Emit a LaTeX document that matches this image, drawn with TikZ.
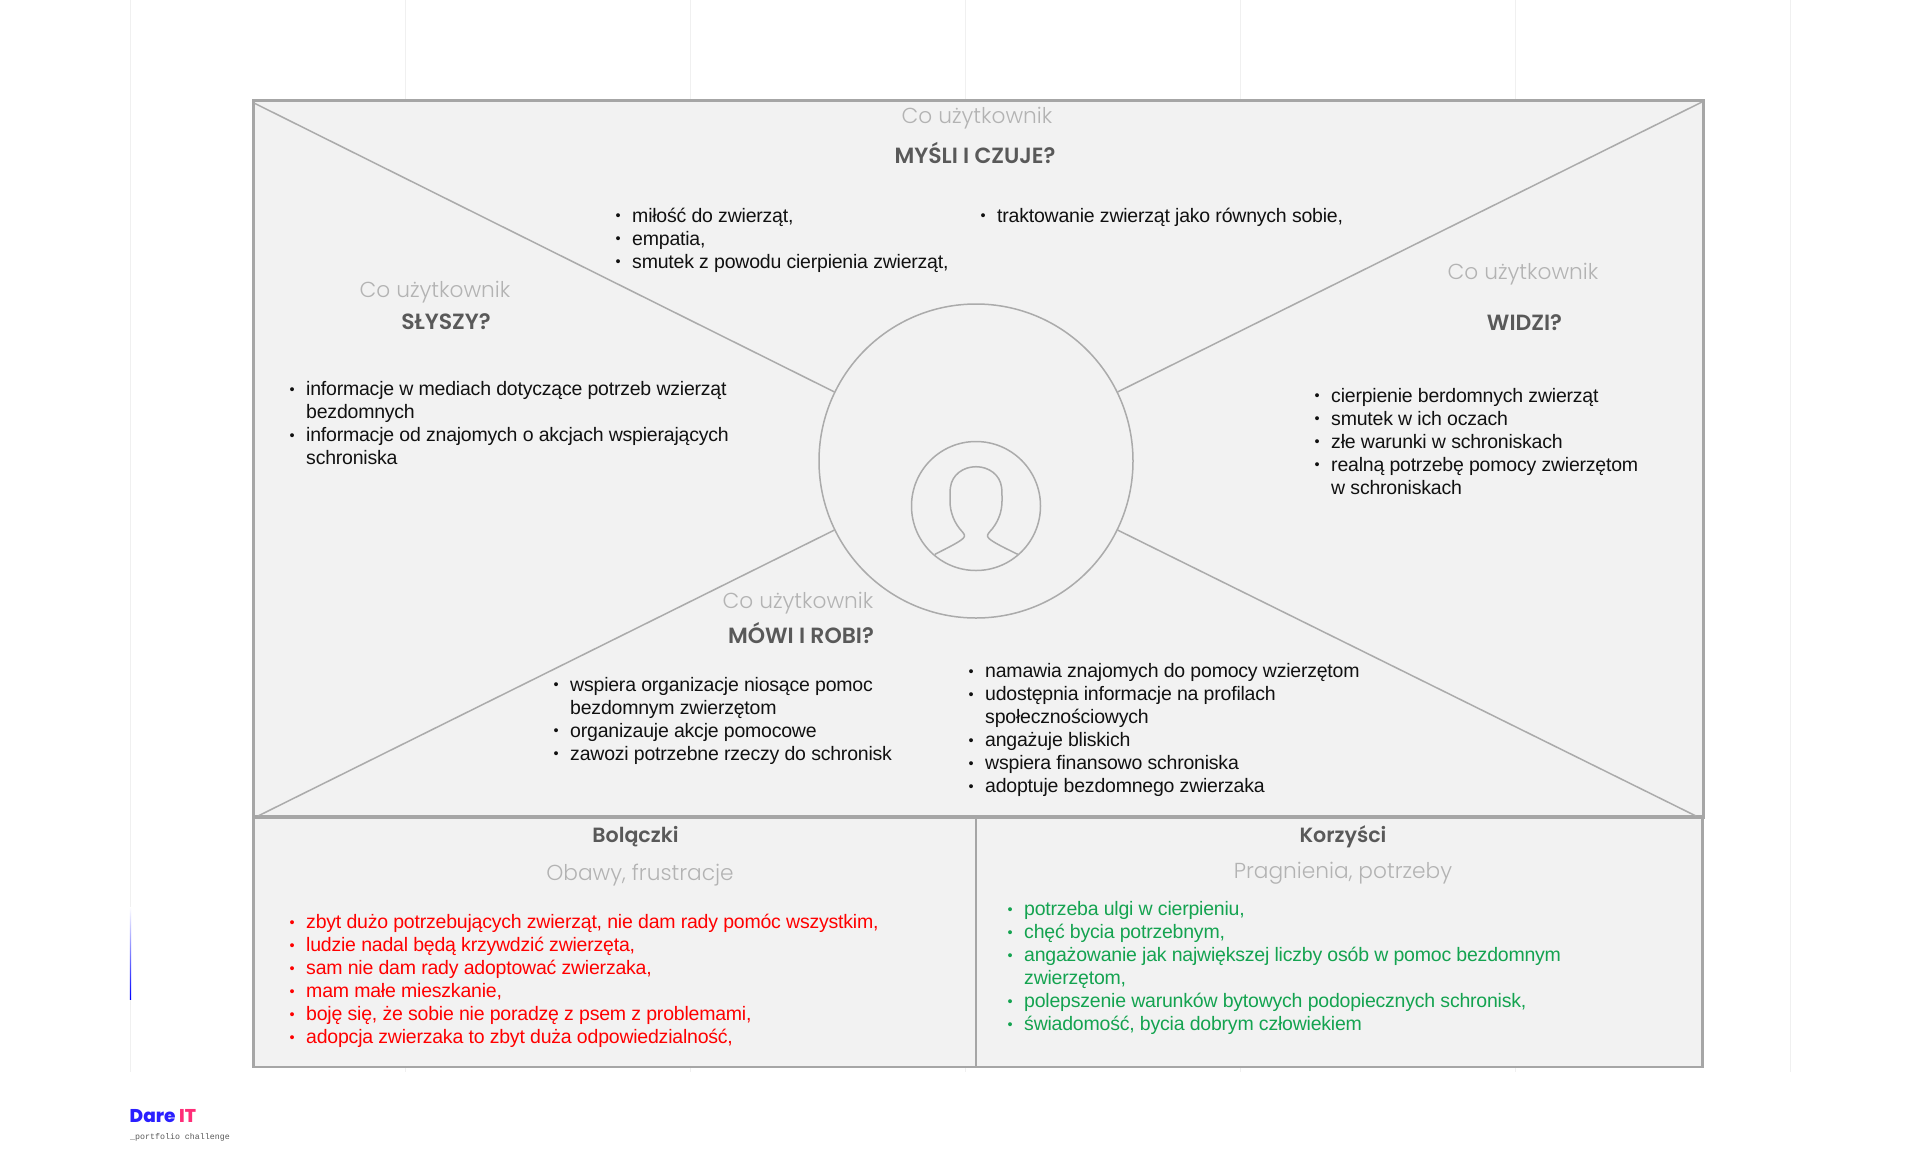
\documentclass[tikz,border=0pt]{standalone}
\usepackage{fontspec}
\setmainfont{Liberation Sans}[LetterSpace=-1.1]
\newfontfamily\hl{Poppins Light}
\newfontfamily\hb{Poppins SemiBold}
\newfontfamily\hx{Poppins ExtraBold}
\newfontfamily\mn{Liberation Mono}
\definecolor{edge}{HTML}{A6A6A6}
\definecolor{thinedge}{HTML}{ABABAB}
\definecolor{panel}{HTML}{F2F2F2}
\definecolor{gridc}{HTML}{F0F0F0}
\definecolor{lightt}{HTML}{B3B3B3}
\definecolor{darkt}{HTML}{595959}
\definecolor{bodyt}{HTML}{111111}
\definecolor{redt}{HTML}{FF0000}
\definecolor{greent}{HTML}{14A350}
\definecolor{dareblue}{HTML}{2A1FFF}
\definecolor{darepink}{HTML}{FF2D78}
\newcommand{\bl}[1]{\rule{0pt}{16pt}\makebox[16pt][l]{\hspace{-0.5pt}\raisebox{1.4pt}{\fontsize{14.5}{14.5}\selectfont\char"2022}}#1}
\newcommand{\cn}[1]{\hspace*{16pt}#1}
\tikzset{
  x=1pt,y=-1pt,
  panelbox/.style={draw=edge,fill=panel},
  spoke/.style={draw=thinedge,line width=1.5pt},
  gridline/.style={draw=gridc,line width=1pt},
  ask/.style={font=\hl\fontsize{21.7}{26}\selectfont,text=lightt,inner sep=0pt},
  topic/.style={font=\hb\fontsize{22}{24}\selectfont,text=darkt,inner sep=0pt},
  subtopic/.style={font=\hb\fontsize{20.6}{24}\selectfont,text=darkt,inner sep=0pt},
  items/.style={anchor=north west,align=left,inner sep=0pt,text=bodyt,font=\fontsize{19.5}{23}\selectfont},
}
\begin{document}
\begin{tikzpicture}
\useasboundingbox (0,0) rectangle (1920,1168);
\fill[white] (0,0) rectangle (1920,1168);
\foreach \gx in {130.5,405,690.5,965,1240.5,1515,1790}{\draw[gridline] (\gx,0) -- (\gx,1072);}
\shade[top color=white,bottom color=blue,draw=none] (129.8,907) rectangle (131.2,999);
\path[panelbox,line width=2.4pt] (253.5,817) rectangle (976,1067);
\path[panelbox,line width=2.4pt] (976,817) rectangle (1702.5,1067);
\path[panelbox,line width=3.2pt] (253.5,100.5) rectangle (1703.5,817);
\draw[edge,line width=4pt] (252,817) -- (1705,817);
\coordinate (ul) at (254,103);
\coordinate (ur) at (1702,102);
\coordinate (ll) at (258,816);
\coordinate (lr) at (1696,816);
\node[circle,draw=thinedge,line width=1.5pt,minimum size=314pt,inner sep=0pt] (hub) at (976,461) {};
\node[circle,draw=thinedge,line width=1.5pt,minimum size=129pt,inner sep=0pt] (face) at (976,506) {};
\draw[spoke] (ul) -- (hub.154);
\draw[spoke] (ur) -- (hub.26);
\draw[spoke] (ll) -- (hub.206);
\draw[spoke] (lr) -- (hub.334);
\draw[thinedge,line width=1.5pt,line join=round] (935,554.3) .. controls (945,549) and (958,543) .. (963,538.5)
  .. controls (965.5,536) and (964.5,534.5) .. (962.5,532)
  .. controls (954,523) and (950,512) .. (950,501)
  .. controls (950,493) and (950,490) .. (950.5,487)
  .. controls (952,475) and (963,466.7) .. (976,466.7)
  .. controls (989,466.7) and (1000,475) .. (1001.5,487)
  .. controls (1002,490) and (1002,493) .. (1002,501)
  .. controls (1002,512) and (998,523) .. (989.5,532)
  .. controls (987.5,534.5) and (986.5,536) .. (989,538.5)
  .. controls (994,543) and (1007,549) .. (1017.7,554.3);
% headings
\node[ask] (q1) at (977,118.4) {Co użytkownik};
\node[topic] (t1) at (975,153) {MYŚLI I CZUJE?};
\node[ask] (q2) at (435,292.4) {Co użytkownik};
\node[topic] (t2) at (446,322) {SŁYSZY?};
\node[ask] (q3) at (1523,274.4) {Co użytkownik};
\node[topic] (t3) at (1524.5,323) {WIDZI?};
\node[ask] (q4) at (798,603.4) {Co użytkownik};
\node[topic] (t4) at (801,633) {MÓWI I ROBI?};
\node[subtopic] (t5) at (635.5,836.4) {Bolączki};
\node[ask] (q5) at (640,875.4) {Obawy, frustracje};
\node[subtopic] (t6) at (1343,836.4) {Korzyści};
\node[ask] (q6) at (1343,873.4) {Pragnienia, potrzeby};
% lists: node top = first baseline - 16, node left = text left - 16
\node[items] (think1) at (616,206) {\bl{miłość do zwierząt,}\\\bl{empatia,}\\\bl{smutek z powodu cierpienia zwierząt,}};
\node[items] (think2) at (981,206) {\bl{traktowanie zwierząt jako równych sobie,}};
\node[items] (hear) at (290,379.5) {\bl{informacje w mediach dotyczące potrzeb wzierząt}\\\cn{bezdomnych}\\\bl{informacje od znajomych o akcjach wspierających}\\\cn{schroniska}};
\node[items] (see) at (1315,386) {\bl{cierpienie berdomnych zwierząt}\\\bl{smutek w ich oczach}\\\bl{złe warunki w schroniskach}\\\bl{realną potrzebę pomocy zwierzętom}\\\cn{w schroniskach}};
\node[items] (say1) at (554,675) {\bl{wspiera organizacje niosące pomoc}\\\cn{bezdomnym zwierzętom}\\\bl{organizauje akcje pomocowe}\\\bl{zawozi potrzebne rzeczy do schronisk}};
\node[items] (say2) at (969,661.5) {\bl{namawia znajomych do pomocy wzierzętom}\\\bl{udostępnia informacje na profilach}\\\cn{społecznościowych}\\\bl{angażuje bliskich}\\\bl{wspiera finansowo schroniska}\\\bl{adoptuje bezdomnego zwierzaka}};
\node[items,text=redt] (pains) at (290,912.5) {\bl{zbyt dużo potrzebujących zwierząt, nie dam rady pomóc wszystkim,}\\\bl{ludzie nadal będą krzywdzić zwierzęta,}\\\bl{sam nie dam rady adoptować zwierzaka,}\\\bl{mam małe mieszkanie,}\\\bl{boję się, że sobie nie poradzę z psem z problemami,}\\\bl{adopcja zwierzaka to zbyt duża odpowiedzialność,}};
\node[items,text=greent] (gains) at (1008,899.5) {\bl{potrzeba ulgi w cierpieniu,}\\\bl{chęć bycia potrzebnym,}\\\bl{angażowanie jak największej liczby osób w pomoc bezdomnym}\\\cn{zwierzętom,}\\\bl{polepszenie warunków bytowych podopiecznych schronisk,}\\\bl{świadomość, bycia dobrym człowiekiem}};
% logo
\node[anchor=base west,inner sep=0pt,font=\hx\fontsize{18.5}{20}\selectfont] (logo) at (129.5,1122) {\textcolor{dareblue}{Dare} \textcolor{darepink}{IT}};
\node[anchor=base west,inner sep=0pt,font=\mn\fontsize{8.3}{10}\selectfont,text=darkt] (tag) at (130,1139) {\_portfolio challenge};
\end{tikzpicture}
\end{document}
